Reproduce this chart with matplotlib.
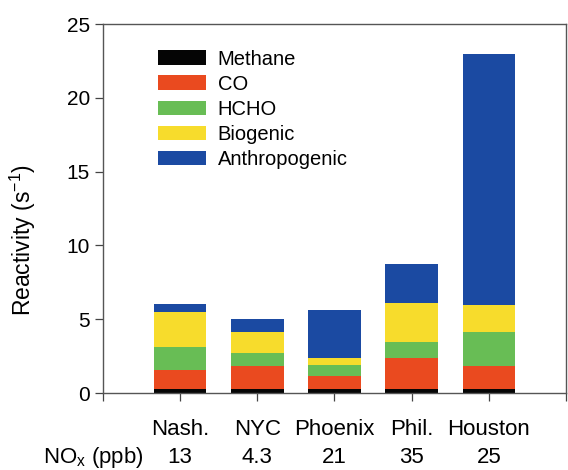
import matplotlib
matplotlib.use('Agg')
import matplotlib.pyplot as plt
import numpy as np

plt.rcParams['font.family'] = ['Liberation Sans', 'DejaVu Sans']

cities = ['Nash.', 'NYC', 'Phoenix', 'Phil.', 'Houston']
nox = ['13', '4.3', '21', '35', '25']
methane = [0.25, 0.25, 0.25, 0.27, 0.25]
co = [1.3, 1.6, 0.9, 2.13, 1.6]
hcho = [1.55, 0.85, 0.75, 1.05, 2.3]
biogenic = [2.4, 1.4, 0.5, 2.65, 1.8]
anthropogenic = [0.5, 0.9, 3.2, 2.65, 17.0]

series = [('Methane', methane, '#050505'),
          ('CO', co, '#EA4A1F'),
          ('HCHO', hcho, '#68BD55'),
          ('Biogenic', biogenic, '#F7DC2C'),
          ('Anthropogenic', anthropogenic, '#1B4AA2')]

fig = plt.figure(figsize=(5.68, 4.70), dpi=100)
ax = fig.add_axes([0.1813, 0.1638, 0.8152, 0.7851])

x = np.arange(1, len(cities) + 1)
bottom = np.zeros(len(cities))
for name, vals, col in series:
    ax.bar(x, vals, 0.68, bottom=bottom, color=col, label=name, linewidth=0)
    bottom += np.array(vals)

ax.set_xlim(0, 6)
ax.set_ylim(0, 25)
ax.set_yticks([0, 5, 10, 15, 20, 25])
ax.set_xticks(range(0, 7))
ax.set_xticklabels([''] * 7)
ax.tick_params(axis='both', direction='out', length=6, width=0.9, color='#444444', labelsize=15)
for s in ax.spines.values():
    s.set_color('#555555')
    s.set_linewidth(1.0)

# two rows of labels under the axis
for xi, c, n in zip(x, cities, nox):
    ax.text(xi, -2.5, c, ha='center', va='center', fontsize=16)
    ax.text(xi, -4.35, n, ha='center', va='center', fontsize=16)
ax.text(-0.13, -4.35, 'NO$_\\mathregular{x}$ (ppb)', ha='center', va='center', fontsize=16)

ax.set_ylabel('Reactivity (s$^{\\mathregular{-1}}$)', fontsize=16.5)
ax.yaxis.set_label_coords(-0.14, 0.415)

ax.legend(loc='upper left', bbox_to_anchor=(0.08, 0.98), frameon=False, fontsize=14.5,
          handlelength=2.4, handleheight=0.7, labelspacing=0.3, handletextpad=0.55)

fig.savefig('out.png', dpi=100)
